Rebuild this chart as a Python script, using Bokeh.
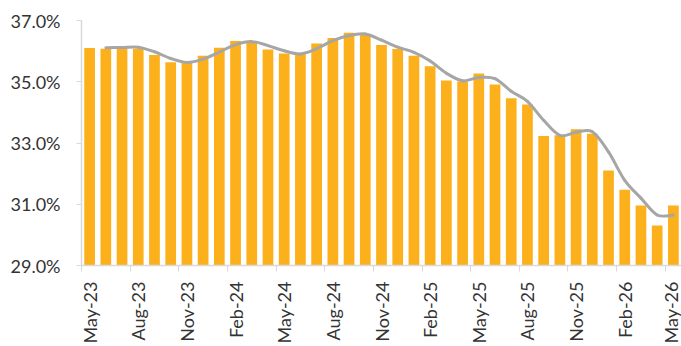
import math

from bokeh.embed import file_html
from bokeh.models import ColumnDataSource, FixedTicker, LinearAxis, PrintfTickFormatter, Range1d
from bokeh.plotting import figure
from bokeh.resources import INLINE

# Monthly categories, May-23 .. May-26
months = [
    "May-23", "Jun-23", "Jul-23", "Aug-23", "Sep-23", "Oct-23", "Nov-23", "Dec-23",
    "Jan-24", "Feb-24", "Mar-24", "Apr-24", "May-24", "Jun-24", "Jul-24", "Aug-24",
    "Sep-24", "Oct-24", "Nov-24", "Dec-24", "Jan-25", "Feb-25", "Mar-25", "Apr-25",
    "May-25", "Jun-25", "Jul-25", "Aug-25", "Sep-25", "Oct-25", "Nov-25", "Dec-25",
    "Jan-26", "Feb-26", "Mar-26", "Apr-26", "May-26",
]

# Monthly share (%)
share = [
    36.10, 36.08, 36.12, 36.08, 35.87, 35.64, 35.61, 35.85,
    36.11, 36.33, 36.31, 36.05, 35.92, 35.90, 36.25, 36.43,
    36.60, 36.53, 36.20, 36.07, 35.85, 35.51, 35.04, 35.01,
    35.27, 34.91, 34.46, 34.26, 33.23, 33.25, 33.45, 33.30,
    32.10, 31.47, 30.96, 30.31, 30.96,
]

# Smoothed trend (%), Jun-23 .. May-26
trend = [
    36.11, 36.12, 36.13, 35.98, 35.76, 35.63, 35.74,
    35.97, 36.21, 36.31, 36.18, 36.01, 35.91, 36.08, 36.34,
    36.51, 36.56, 36.36, 36.13, 35.96, 35.68, 35.28, 35.03,
    35.14, 35.10, 34.69, 34.36, 33.74, 33.25, 33.35, 33.37,
    32.71, 31.78, 31.20, 30.65, 30.65,
]

y_ticks = [29, 31, 33, 35, 37]

FONT = "Lato"
TEXT = "#333333"
AXIS = "#d9d9d9"
BAR = "#fbb01c"
LINE = "#a6a6a6"

n = len(months)
xs = list(range(n))
trend_x = list(range(n - len(trend), n))

p = figure(
    width=681, height=346,
    x_range=Range1d(-0.5, n - 0.5),
    y_range=Range1d(29, 37),
    x_axis_location=None,
    output_backend="svg",
    toolbar_location=None,
    min_border_left=81, min_border_right=0,
    min_border_top=20, min_border_bottom=81,
)
p.outline_line_color = None
p.xgrid.visible = False
p.ygrid.visible = False
p.background_fill_color = "white"
p.border_fill_color = "white"

# Bars
src = ColumnDataSource(dict(x=xs, top=share))
p.vbar(x="x", top="top", bottom=29, width=0.66, source=src,
       fill_color=BAR, line_color=None)

# Smooth trend line drawn as Catmull-Rom bezier pieces
pts = list(zip(trend_x, trend))
x0, y0, x1, y1, cx0, cy0, cx1, cy1 = ([] for _ in range(8))
for i in range(len(pts) - 1):
    pa = pts[i - 1] if i > 0 else pts[i]
    pb, pc = pts[i], pts[i + 1]
    pd = pts[i + 2] if i + 2 < len(pts) else pts[i + 1]
    x0.append(pb[0]); y0.append(pb[1])
    x1.append(pc[0]); y1.append(pc[1])
    cx0.append(pb[0] + (pc[0] - pa[0]) / 6); cy0.append(pb[1] + (pc[1] - pa[1]) / 6)
    cx1.append(pc[0] - (pd[0] - pb[0]) / 6); cy1.append(pc[1] - (pd[1] - pb[1]) / 6)
p.bezier(x0=x0, y0=y0, x1=x1, y1=y1, cx0=cx0, cy0=cy0, cx1=cx1, cy1=cy1,
         line_color=LINE, line_width=3, line_cap="round")

# Y axis
ya = p.yaxis[0]
ya.ticker = FixedTicker(ticks=y_ticks)
ya.formatter = PrintfTickFormatter(format="%.1f%%")
ya.minor_tick_line_color = None
ya.major_tick_in = 0
ya.major_tick_out = 5
ya.major_tick_line_color = AXIS
ya.axis_line_color = AXIS
ya.axis_line_width = 1.5
ya.major_label_standoff = 16
ya.major_label_text_font = FONT
ya.major_label_text_font_size = "18px"
ya.major_label_text_color = TEXT

# X axis: labels centred on every third bar, tick marks on category boundaries
label_ticks = list(range(0, n, 3))
xa = LinearAxis(
    ticker=FixedTicker(ticks=label_ticks,
                       minor_ticks=[t - 0.5 for t in label_ticks]),
    major_label_overrides={t: months[t] for t in label_ticks},
    major_label_orientation=math.pi / 2,
    major_label_standoff=10,
    major_tick_in=0, major_tick_out=6,
    major_tick_line_color=None,
    minor_tick_in=0, minor_tick_out=6,
    minor_tick_line_color=AXIS,
    axis_line_color=AXIS, axis_line_width=1.5,
    major_label_text_font=FONT,
    major_label_text_font_size="18px",
    major_label_text_color=TEXT,
)
p.add_layout(xa, "below")

open("out.html", "w").write(file_html(p, INLINE))
